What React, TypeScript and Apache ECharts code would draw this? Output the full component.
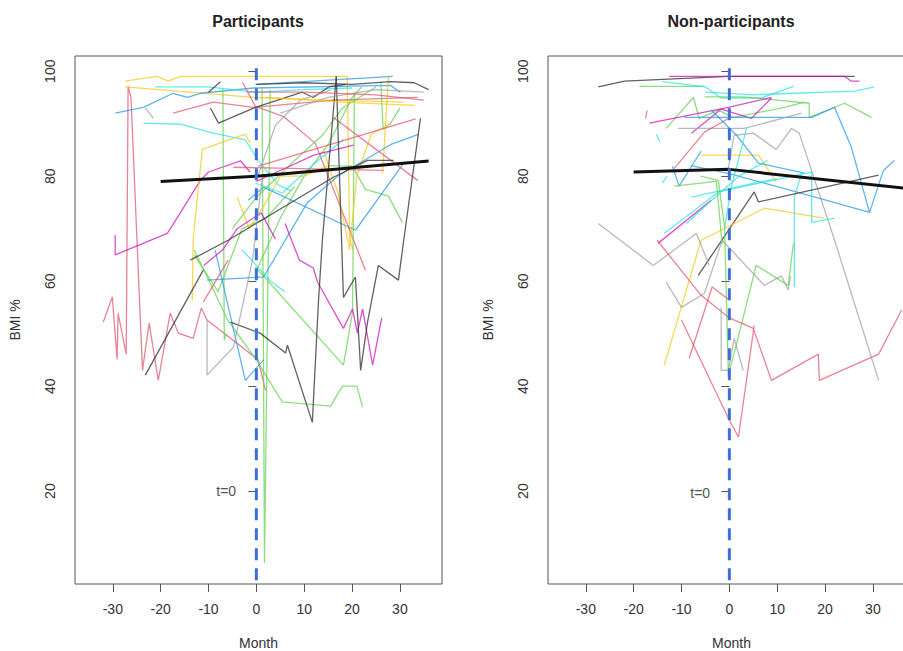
import React, { useEffect, useRef } from "react";
import * as echarts from "echarts";

// ---------- axes ----------
const MONTH_TICKS = [-30, -20, -10, 0, 10, 20, 30];
const BMI_TICKS = [20, 40, 60, 80, 100];
const PANEL_TITLES = ["Participants", "Non-participants"];
const T0_LABEL = "t=0";
const T0_POS = [[-6.3, 20.1], [-6.1, 19.7]];
const REF_LINE = [[0, 3.0], [0, 101.8]];

// ---------- participants: individual trajectories [month, BMI%] ----------
const P01 = [[-32, 52.2], [-30.1, 57], [-29.1, 45.1], [-28.9, 53.9], [-27.2, 46.1], [-26.8, 97.1], [-26.2, 95], [-23.8, 43], [-22.4, 52], [-20.5, 41.1], [-18, 53.9], [-16.3, 50.1], [-13.2, 49.1], [-11.5, 54.9], [-10.3, 52.6], [0.4, 45], [1.9, 39.2]];
const P02 = [[-29.5, 68.8], [-29.5, 65], [-18.6, 69.1], [-15.9, 73], [-11.7, 79.2], [-10, 80.8], [-3.3, 82.9], [-1.3, 80.8]];
const P03 = [[-27.4, 98.1], [-20.7, 99], [-18.4, 98.1], [-15.9, 99], [19, 99], [19.5, 67.8], [20.3, 66]];
const P04 = [[-27.4, 97], [-0.6, 95], [15, 94.5], [30.8, 94.1]];
const P05 = [[-29.5, 92], [-23.6, 93.1], [-17.4, 95.8], [-14.4, 95], [-11.7, 95.8], [-0.6, 96.8], [28, 97.3], [30.1, 96]];
const P06 = [[-21.1, 97], [-10.2, 97], [0, 96], [10, 96.5], [20, 96.8]];
const P07 = [[-23.6, 90.1], [-15.9, 89.9], [-9, 88.2], [-2.3, 86.9], [0.4, 83], [4.6, 78.3], [7.1, 77.3]];
const P08 = [[-17.4, 92], [-9, 94.1], [-0.6, 93.1], [16.1, 94.5], [33.7, 95]];
const P09 = [[-2.9, 97.9], [-0.2, 93.3], [5.6, 91.4], [12.3, 86.3], [22.8, 62.1]];
const P10 = [[-7, 96.6], [-6.7, 48.8], [-6.3, 50]];
const P11 = [[1.2, 97], [1.7, 6.3], [2.9, 96.4]];
const P12 = [[-13, 66], [-6, 52.6], [0, 45], [5.4, 37], [15.5, 36.2], [18, 40], [21, 40], [22.2, 36]];
const P13 = [[-0.2, 62.7], [18.2, 44], [20.1, 54.1], [20.5, 96]];
const P14 = [[0, 62], [5, 72], [10, 80], [15, 86], [20, 95], [22, 97]];
const P15 = [[-5, 70], [0, 76], [8, 83], [14, 88], [18, 93], [25, 97]];
const P16 = [[26, 98], [26.5, 89], [28, 90], [30, 93]];
const P17 = [[15, 82], [20.1, 81.9], [22.8, 77.5], [27.6, 76.2], [30.5, 71.2]];
const P18 = [[-13, 65], [-8, 58], [-3, 70], [2, 72], [8, 78]];
const P19 = [[-13.4, 56.4], [-13.2, 68], [-11.3, 85.1], [-2.3, 88], [-1.3, 86.3]];
const P20 = [[27.6, 99], [26.4, 80.6]];
const P21 = [[14, 85], [17, 77], [19.5, 66], [21, 80], [24, 88], [28, 90]];
const P22 = [[-4, 76], [-1.5, 70], [2, 75], [5, 80], [10, 80], [15, 82]];
const P23 = [[-8.6, 65.9], [-2.3, 41.1], [1.5, 45]];
const P24 = [[-10.3, 60.2], [1.5, 60.8], [10.7, 75], [17, 80], [28, 86], [34, 88]];
const P25 = [[-1.7, 75.4], [1.5, 77.9], [20.7, 69.7], [30.8, 82.5]];
const P26 = [[-0.2, 97.5], [28.5, 99]];
const P27 = [[-0.2, 78.7], [5.4, 76.8], [12.3, 82.5], [18.2, 87]];
const P28 = [[-3, 66], [0, 63], [3, 60], [6, 58]];
const P29 = [[6, 71], [9, 64], [11.9, 62.5], [12.8, 59.8], [18.2, 51], [20.1, 54.7], [21.1, 50.1], [22.2, 54.7], [24.3, 44], [26.2, 53]];
const P30 = [[-11, 63], [-7, 66], [-4, 70], [1, 73], [4, 68]];
const P31 = [[0, 79], [6.5, 81.7], [12, 84], [20.3, 85.9]];
const P32 = [[-11.1, 56], [-5.9, 64]];
const P33 = [[0.4, 81.9], [33.3, 90.9]];
const P34 = [[16.1, 91.2], [33.7, 79.2]];
const P35 = [[-4.8, 81.7], [26.6, 81.1]];
const P36 = [[-9.6, 93], [-7.9, 90.1], [-0.2, 93.1], [9.6, 96], [11.9, 95], [15.1, 97], [18.6, 97.5]];
const P37 = [[0, 97.5], [10, 97.8], [20, 97.5], [28, 98], [33, 97.8], [36, 96.5]];
const P38 = [[-10, 96], [-7.5, 98]];
const P39 = [[-23.2, 42.1], [-11.1, 62.1]];
const P40 = [[-13.8, 64], [-5.9, 67.8], [16.1, 79.8], [23.2, 83], [28.7, 83]];
const P41 = [[-5.4, 52.2], [0.8, 50.1], [6.1, 46.3], [6.5, 47.8], [11.7, 33.1], [13, 56.4], [13.8, 67.8], [16.7, 99]];
const P42 = [[16.7, 99], [18.2, 56.9], [20.7, 60.8], [21.8, 43], [23.2, 52], [25.5, 63], [29.7, 60.2], [30.8, 67.8], [34.3, 91]];
const P43 = [[0.4, 80.2], [4, 89.7], [9.2, 94.5], [15.5, 96.4]];
const P44 = [[-10.3, 52.6], [-10.3, 42.1], [-4.8, 47.4], [-0.8, 64], [1.3, 80.2]];
const P45 = [[5, 92], [15, 95], [25, 96.5], [35, 96]];
const P46 = [[-23.2, 93], [-21.5, 91]];
const P47 = [[-2, 96], [10, 96], [25, 95.5], [35, 94.5]];
const P48 = [[2, 95], [20, 94], [33, 93.5]];
const PART_LINES = [P01, P02, P03, P04, P05, P06, P07, P08, P09, P10, P11, P12, P13, P14, P15, P16, P17, P18, P19, P20, P21, P22, P23, P24, P25, P26, P27, P28, P29, P30, P31, P32, P33, P34, P35, P36, P37, P38, P39, P40, P41, P42, P43, P44, P45, P46, P47, P48];
const PART_COLS = ["r", "m", "y", "y", "b", "c", "c", "r", "r", "g", "g", "g", "g", "g", "g", "g", "g", "g", "y", "y", "y", "y", "b", "b", "b", "b", "c", "c", "m", "m", "m", "r", "r", "r", "r", "k", "k", "k", "k", "k", "k", "k", "e", "e", "e", "e", "r", "y"];
const PART_MEAN = [[-20, 79], [0, 80], [36, 82.9]];

// ---------- non-participants ----------
const N01 = [[-27.4, 97], [-21.9, 98.1], [-0.2, 99], [26.2, 99]];
const N02 = [[-12.6, 99], [24.1, 99], [25.5, 98.1], [27.2, 98.1]];
const N03 = [[-18.8, 97.1], [-5.2, 97.1]];
const N04 = [[-14, 98], [-5, 97], [-1.7, 94.9], [6.7, 94.9], [13.4, 97.1]];
const N05 = [[-5, 96], [5, 95.5], [13.6, 95.8], [26.2, 96.2], [30.3, 97]];
const N06 = [[-5.2, 95.1], [3.1, 95.1], [16.7, 93.9], [16.7, 91.2], [24.1, 93.9], [29.7, 91.2]];
const N07 = [[-13.2, 89.1], [-7.5, 95], [-6.3, 91], [-2.3, 92.6], [0.8, 91.2], [11.5, 93.1], [15.7, 94.1]];
const N08 = [[-16.7, 90.1], [-0.2, 93.1], [8.8, 95]];
const N09 = [[-7.9, 88.2], [-1.7, 92.8], [4.6, 91], [8.8, 94.9]];
const N10 = [[-9.4, 91.2], [17.2, 91.2], [22, 93.1], [25.5, 85.5], [29.3, 73.1], [32.2, 81.1], [34.5, 83]];
const N11 = [[-10.7, 89.1], [3.1, 89.1], [15.1, 92]];
const N12 = [[-11.5, 81.5], [-5.2, 88.4], [-0.2, 91]];
const N13 = [[-0.2, 81.5], [1, 87.8], [5, 88.2], [9.8, 85.1], [13, 89.1], [14.6, 88.2], [22, 67.8], [31.2, 41.1]];
const N14 = [[-5.9, 84], [6.1, 84], [9.8, 78.9]];
const N15 = [[-11.9, 81.9], [-10.5, 78.1], [-5.9, 84.8]];
const N16 = [[-8, 82], [0, 80.5], [10, 78], [20, 75.5], [29.3, 73.1]];
const N17 = [[-3.8, 92.6], [1.5, 87.8], [6.1, 82.5], [15.7, 80.6]];
const N18 = [[3.6, 89.1], [0.4, 77.9], [-1, 70]];
const N19 = [[-13.6, 69.1], [-2.3, 77], [17.2, 80.8], [17.2, 71.2], [22, 72]];
const N20 = [[-14.9, 67.2], [-3.8, 75.4]];
const N21 = [[-7.9, 76], [5.2, 78.7], [10, 79.5]];
const N22 = [[13.6, 58.9], [13.6, 76], [15.1, 80.6]];
const N23 = [[-6.5, 61.1], [5.2, 77], [6.1, 75.1], [31.2, 80.2]];
const N24 = [[-13.6, 44], [-5.9, 67.8], [7.3, 73.9], [19.7, 72]];
const N25 = [[-27.4, 71], [-15.9, 63], [-6.9, 69.1], [-4.2, 63]];
const N26 = [[-13.2, 59.8], [-10, 55], [-5.2, 57.7], [-1.5, 67.8], [7.3, 59.2], [10.9, 61], [12.3, 58.3], [12.8, 61]];
const N27 = [[-6, 80], [-2.3, 79.2], [-1, 70.3], [-0.2, 42.1], [1.5, 48], [5.6, 63], [12.3, 59.2], [13.4, 67.2]];
const N28 = [[-15.1, 67.8], [-5.9, 57.3], [0, 53], [5, 51], [8.8, 41.1], [18.6, 46.1], [18.8, 41.1], [31.2, 46.1], [36, 54.5]];
const N29 = [[-10, 52.6], [0, 33.5], [1.9, 30.3], [5.2, 51.6]];
const N30 = [[-8.4, 45.3], [-3.6, 58.9], [0, 56.4]];
const N31 = [[-1.7, 55], [-1.7, 43], [-0.2, 43], [1, 49.1], [2.9, 43]];
const N32 = [[-9, 71], [-3, 76], [2, 80], [8, 83]];
const N33 = [[-11.5, 78.1], [-2.7, 79], [-1.5, 67]];
const N34 = [[-15.3, 88], [-14.5, 86.5]];
const N35 = [[-14, 78.7], [-13, 80]];
const N36 = [[-17.5, 91], [-17.2, 92.5]];
const NON_LINES = [N01, N02, N03, N04, N05, N06, N07, N08, N09, N10, N11, N12, N13, N14, N15, N16, N17, N18, N19, N20, N21, N22, N23, N24, N25, N26, N27, N28, N29, N30, N31, N32, N33, N34, N35, N36];
const NON_COLS = ["k", "m", "g", "c", "c", "g", "g", "m", "m", "b", "e", "r", "e", "y", "b", "b", "b", "c", "c", "m", "c", "c", "k", "y", "e", "e", "g", "r", "r", "r", "e", "c", "g", "c", "c", "r"];
const NON_MEAN = [[-20, 80.8], [0, 81.3], [36.6, 77.7]];

const PALETTE: Record<string, string> = {
  k: "#3a3a3a",
  r: "#DF536B",
  g: "#61D04F",
  b: "#2297E6",
  c: "#28E2E5",
  m: "#CD0BBC",
  y: "#F5C710",
  e: "#9E9E9E",
};

const FONT = "Liberation Sans, Arial, Helvetica, sans-serif";

function panelSeries(lines: number[][][], cols: string[], mean: number[][], t0: number[], idx: number) {
  const out: any[] = lines.map((d, i) => ({
    type: "line",
    xAxisIndex: idx,
    yAxisIndex: idx,
    data: d,
    symbol: "none",
    silent: true,
    z: 2,
    lineStyle: { color: PALETTE[cols[i]], width: 1.3, opacity: cols[i] === "k" ? 0.8 : 0.72 },
  }));
  out.push({
    type: "line",
    xAxisIndex: idx,
    yAxisIndex: idx,
    data: mean,
    symbol: "none",
    silent: true,
    z: 5,
    lineStyle: { color: "#111", width: 3 },
  });
  out.push({
    type: "line",
    xAxisIndex: idx,
    yAxisIndex: idx,
    data: REF_LINE,
    symbol: "none",
    silent: true,
    z: 6,
    lineStyle: { color: "#3d6fd6", width: 3, type: [12, 8] },
  });
  out.push({
    type: "scatter",
    xAxisIndex: idx,
    yAxisIndex: idx,
    data: [t0],
    symbolSize: 0,
    silent: true,
    z: 7,
    label: {
      show: true,
      position: "inside",
      formatter: T0_LABEL,
      fontSize: 14,
      color: "#222",
      fontFamily: FONT,
    },
  });
  return out;
}

function xAxisCfg(idx: number) {
  return {
    type: "value",
    gridIndex: idx,
    min: -37.9,
    max: 38.8,
    axisLine: { show: false },
    splitLine: { show: false },
    axisTick: { show: true, length: 8, lineStyle: { color: "#555" }, customValues: MONTH_TICKS },
    axisLabel: { customValues: MONTH_TICKS, margin: 18, fontSize: 14, color: "#333", fontFamily: FONT },
    name: "Month",
    nameLocation: "middle",
    nameGap: 52,
    nameTextStyle: { fontSize: 14, color: "#333", fontFamily: FONT },
  };
}

function yAxisCfg(idx: number) {
  return {
    type: "value",
    gridIndex: idx,
    min: 2.3,
    max: 102.9,
    axisLine: { show: false },
    splitLine: { show: false },
    axisTick: { show: true, length: 8, lineStyle: { color: "#555" }, customValues: BMI_TICKS },
    axisLabel: { customValues: BMI_TICKS, rotate: 90, margin: 18, fontSize: 14, color: "#333", fontFamily: FONT },
    name: "BMI %",
    nameLocation: "middle",
    nameRotate: 90,
    nameGap: 53,
    nameTextStyle: { fontSize: 14, color: "#333", fontFamily: FONT },
  };
}

export default function App() {
  const ref = useRef<HTMLDivElement>(null);
  useEffect(() => {
    if (!ref.current) return;
    const chart = echarts.init(ref.current, null, { renderer: "svg" });
    const gridBase = { top: 56, width: 367, height: 528, show: true, borderColor: "#555", borderWidth: 1, containLabel: false, outerBoundsMode: "none" };
    chart.setOption({
      animation: false,
      backgroundColor: "#fff",
      grid: [
        { ...gridBase, left: 75 },
        { ...gridBase, left: 548 },
      ],
      xAxis: [xAxisCfg(0), xAxisCfg(1)],
      yAxis: [yAxisCfg(0), yAxisCfg(1)],
      graphic: [
        { type: "text", x: 258, y: 21, style: { text: PANEL_TITLES[0], font: `bold 16px ${FONT}`, fill: "#222", textAlign: "center", textVerticalAlign: "middle" } },
        { type: "text", x: 731, y: 21, style: { text: PANEL_TITLES[1], font: `bold 16px ${FONT}`, fill: "#222", textAlign: "center", textVerticalAlign: "middle" } },
      ],
      series: [
        ...panelSeries(PART_LINES, PART_COLS, PART_MEAN, T0_POS[0], 0),
        ...panelSeries(NON_LINES, NON_COLS, NON_MEAN, T0_POS[1], 1),
      ],
    });
    return () => chart.dispose();
  }, []);
  return <div ref={ref} style={{ position: "absolute", left: 0, top: 0, width: 903, height: 651 }} />;
}
